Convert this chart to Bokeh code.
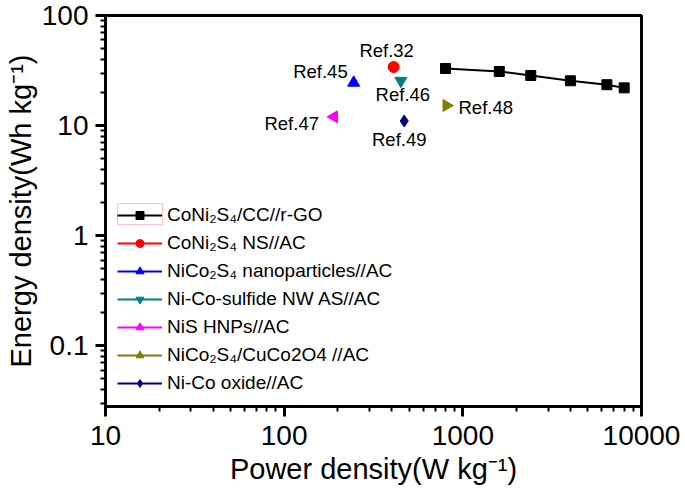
from bokeh.plotting import figure
from bokeh.models import LogTicker, BasicTickFormatter, Legend, LegendItem, BoxAnnotation, Label
from bokeh.embed import file_html
from bokeh.resources import INLINE

# ---- data ----
main_power = [800, 1600, 2400, 4000, 6400, 8000]
main_energy = [33, 31, 28.5, 25.5, 23.5, 22]

ref_names = ["Ref.32", "Ref.45", "Ref.46", "Ref.47", "Ref.48", "Ref.49"]
ref_power = [410, 245, 450, 190, 810, 470]
ref_energy = [34, 24.5, 25.5, 12, 15.2, 11]
ref_legend = ["CoNi₂S₄ NS//AC", "NiCo₂S₄ nanoparticles//AC", "Ni-Co-sulfide NW AS//AC",
              "NiS HNPs//AC", "NiCo₂S₄/CuCo2O4 //AC", "Ni-Co oxide//AC"]
main_legend = "CoNi₂S₄/CC//r-GO"

# ---- styles ----
ref_colors = ["#ff0000", "#0000ff", "#008080", "#ff00ff", "#808000", "#000080"]
ref_markers = ["circle", "triangle", "inverted_triangle", "triangle", "triangle", "diamond"]
ref_angles = [0, 0, 0, 1.5708, -1.5708, 0]
ref_sizes = [11, 12, 12, 12, 12, 12]
lab_align = ["center", "right", "center", "right", "left", "center"]
lab_dx = [-7, -6, 2, -15, 12, -5]
lab_dy = [17, 11, -14, -7, -2, -19]

FONT = "Liberation Sans"

p = figure(width=680, height=490, x_axis_type="log", y_axis_type="log",
           x_range=(10, 10000), y_range=(0.028, 100),
           output_backend="svg", toolbar_location=None,
           min_border_left=105, min_border_right=39, min_border_top=15, min_border_bottom=84)
p.xgrid.visible = False
p.ygrid.visible = False
p.outline_line_color = "black"
p.outline_line_width = 3

p.xaxis.ticker = LogTicker(mantissas=[1], num_minor_ticks=10, desired_num_ticks=4)
p.yaxis.ticker = LogTicker(mantissas=[1], num_minor_ticks=10, desired_num_ticks=5)
for ax in (p.xaxis[0], p.yaxis[0]):
    ax.formatter = BasicTickFormatter(use_scientific=False)
    ax.axis_line_width = 3
    ax.axis_line_color = "black"
    ax.major_tick_line_color = "black"
    ax.minor_tick_line_color = "black"
    ax.major_tick_line_width = 3
    ax.minor_tick_line_width = 2
    ax.major_tick_in = 0
    ax.major_tick_out = 10
    ax.minor_tick_in = 0
    ax.minor_tick_out = 5
    ax.major_label_text_font = FONT
    ax.major_label_text_font_size = "28px"
    ax.major_label_text_color = "black"
    ax.axis_label_text_font = FONT
    ax.axis_label_text_font_size = "29px"
    ax.axis_label_text_font_style = "normal"
    ax.axis_label_text_color = "black"

p.xaxis.axis_label = "Power density(W kg⁻¹)"
p.yaxis.axis_label = "Energy density(Wh kg⁻¹)"
p.xaxis.major_label_standoff = 9
p.xaxis.axis_label_standoff = 5
p.yaxis.major_label_standoff = 7
p.yaxis.axis_label_standoff = 2

items = []
l0 = p.line(main_power, main_energy, line_color="black", line_width=2)
s0 = p.scatter(main_power, main_energy, marker="square", size=10, color="black")
items.append(LegendItem(label=main_legend, renderers=[l0, s0]))

for i in range(len(ref_names)):
    li = p.line([ref_power[i]], [ref_energy[i]], line_color=ref_colors[i], line_width=2)
    si = p.scatter([ref_power[i]], [ref_energy[i]], marker=ref_markers[i], size=ref_sizes[i],
                   angle=ref_angles[i], color=ref_colors[i])
    items.append(LegendItem(label=ref_legend[i], renderers=[li, si]))
    p.add_layout(Label(x=ref_power[i], y=ref_energy[i], text=ref_names[i],
                       x_offset=lab_dx[i], y_offset=lab_dy[i],
                       text_align=lab_align[i], text_baseline="middle",
                       text_font=FONT, text_font_size="18.5px", text_color="black"))

legend = Legend(items=items, location=(12, 12))
legend.label_text_font = FONT
legend.label_text_font_size = "19px"
legend.label_text_color = "black"
legend.glyph_width = 45
legend.glyph_height = 20
legend.label_height = 20
legend.spacing = 6
legend.padding = 4
legend.margin = 0
legend.label_standoff = 5
legend.border_line_color = None
legend.background_fill_color = None
p.add_layout(legend, "center")

sel = BoxAnnotation(left=12, right=57, top=203, bottom=182,
                    left_units="screen", right_units="screen",
                    top_units="screen", bottom_units="screen",
                    fill_color=None, line_color="#ff4040", line_width=1)
p.add_layout(sel)

open("out.html", "w").write(file_html(p, INLINE))
